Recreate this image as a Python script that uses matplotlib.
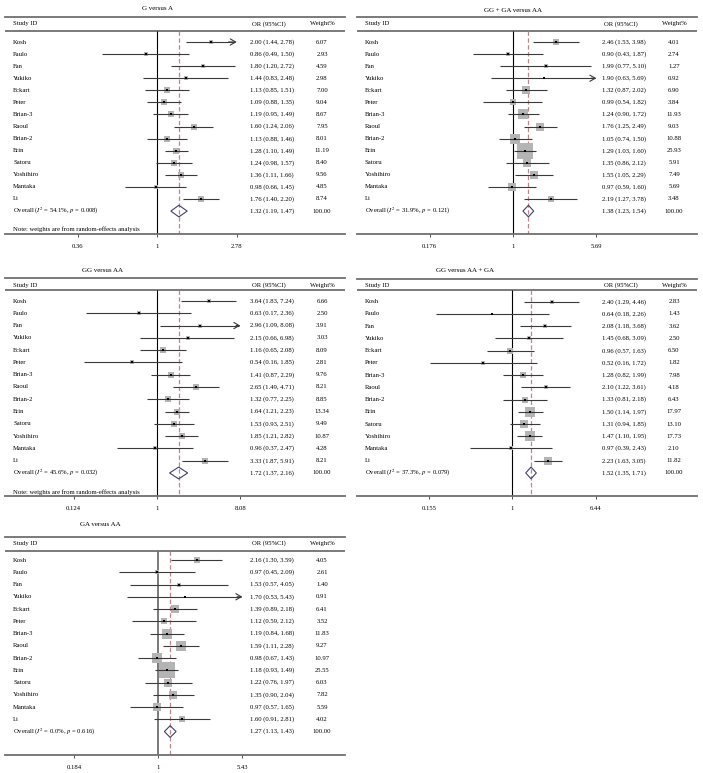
import numpy as np
import matplotlib
matplotlib.use("Agg")
import matplotlib.pyplot as plt
from matplotlib.patches import Polygon
import matplotlib.transforms as mtrans

plt.rcParams["font.family"] = ["Liberation Serif", "DejaVu Serif"]
plt.rcParams["mathtext.fontset"] = "stix"

studies = ["Kosh", "Paulo", "Fan", "Yukiko", "Eckart", "Peter", "Brian-3", "Raoul",
           "Brian-2", "Erin", "Satoru", "Yoshihiro", "Mantaka", "Li"]

# ---- G versus A
ga_or = [2.00, 0.86, 1.80, 1.44, 1.13, 1.09, 1.19, 1.60, 1.13, 1.28, 1.24, 1.36, 0.98, 1.76]
ga_lo = [1.44, 0.49, 1.20, 0.83, 0.85, 0.88, 0.95, 1.24, 0.88, 1.10, 0.98, 1.11, 0.66, 1.40]
ga_hi = [2.78, 1.50, 2.72, 2.48, 1.51, 1.35, 1.49, 2.06, 1.46, 1.49, 1.57, 1.66, 1.45, 2.20]
ga_w = [6.07, 2.93, 4.59, 2.98, 7.00, 9.04, 8.67, 7.95, 8.01, 11.19, 8.40, 9.56, 4.85, 8.74]
ga_overall = [1.32, 1.19, 1.47, 54.1, 0.008]

# ---- GG + GA versus AA
dom_or = [2.46, 0.90, 1.99, 1.90, 1.32, 0.99, 1.24, 1.76, 1.05, 1.29, 1.35, 1.55, 0.97, 2.19]
dom_lo = [1.53, 0.43, 0.77, 0.63, 0.87, 0.54, 0.90, 1.25, 0.74, 1.03, 0.86, 1.05, 0.59, 1.27]
dom_hi = [3.98, 1.87, 5.10, 5.69, 2.02, 1.82, 1.72, 2.49, 1.50, 1.60, 2.12, 2.29, 1.60, 3.78]
dom_w = [4.01, 2.74, 1.27, 0.92, 6.90, 3.84, 11.93, 9.03, 10.88, 25.93, 5.91, 7.49, 5.69, 3.48]
dom_overall = [1.38, 1.23, 1.54, 31.9, 0.121]

# ---- GG versus AA
hom_or = [3.64, 0.63, 2.96, 2.15, 1.16, 0.54, 1.41, 2.65, 1.32, 1.64, 1.53, 1.85, 0.96, 3.33]
hom_lo = [1.83, 0.17, 1.09, 0.66, 0.65, 0.16, 0.87, 1.49, 0.77, 1.21, 0.93, 1.21, 0.37, 1.87]
hom_hi = [7.24, 2.36, 8.08, 6.98, 2.08, 1.85, 2.29, 4.71, 2.25, 2.23, 2.51, 2.82, 2.47, 5.91]
hom_w = [6.66, 2.50, 3.91, 3.03, 8.09, 2.81, 9.76, 8.21, 8.85, 13.34, 9.49, 10.87, 4.28, 8.21]
hom_overall = [1.72, 1.37, 2.16, 45.6, 0.032]

# ---- GG versus AA + GA
rec_or = [2.40, 0.64, 2.08, 1.45, 0.96, 0.52, 1.28, 2.10, 1.33, 1.50, 1.31, 1.47, 0.97, 2.23]
rec_lo = [1.29, 0.18, 1.18, 0.68, 0.57, 0.16, 0.82, 1.22, 0.81, 1.14, 0.94, 1.10, 0.39, 1.63]
rec_hi = [4.46, 2.26, 3.68, 3.09, 1.63, 1.72, 1.99, 3.61, 2.18, 1.97, 1.85, 1.95, 2.43, 3.05]
rec_w = [2.83, 1.43, 3.62, 2.50, 6.50, 1.82, 7.98, 4.18, 6.43, 17.97, 13.10, 17.73, 2.10, 11.82]
rec_overall = [1.52, 1.35, 1.71, 37.3, 0.079]

# ---- GA versus AA
het_or = [2.16, 0.97, 1.53, 1.70, 1.39, 1.12, 1.19, 1.59, 0.98, 1.18, 1.22, 1.35, 0.97, 1.60]
het_lo = [1.30, 0.45, 0.57, 0.53, 0.89, 0.59, 0.84, 1.11, 0.67, 0.93, 0.76, 0.90, 0.57, 0.91]
het_hi = [3.59, 2.09, 4.05, 5.43, 2.18, 2.12, 1.68, 2.28, 1.43, 1.49, 1.97, 2.04, 1.65, 2.81]
het_w = [4.05, 2.61, 1.40, 0.91, 6.41, 3.52, 11.83, 9.27, 10.97, 25.55, 6.03, 7.82, 5.59, 4.02]
het_overall = [1.27, 1.13, 1.43, 0.0, 0.616]

titles = ["G versus A", "GG + GA versus AA", "GG versus AA", "GG versus AA + GA", "GA versus AA"]
tick_max = [2.78, 5.69, 8.08, 6.44, 5.43]
tick_labels = [["0.36", "1", "2.78"], ["0.176", "1", "5.69"], ["0.124", "1", "8.08"],
               ["0.155", "1", "6.44"], ["0.184", "1", "5.43"]]
note_text = "Note: weights are from random-effects analysis"

panels = [
    (ga_or, ga_lo, ga_hi, ga_w, ga_overall),
    (dom_or, dom_lo, dom_hi, dom_w, dom_overall),
    (hom_or, hom_lo, hom_hi, hom_w, hom_overall),
    (rec_or, rec_lo, rec_hi, rec_w, rec_overall),
    (het_or, het_lo, het_hi, het_w, het_overall),
]

# layout in pixels: L, R, x_of_1, x_of_tick, y_title, x_title, y_topline, y_head, y_secline,
# y_kosh, y_li, y_note, y_bottom, has_note, box_scale, null-line colour/width
layout = [
    (5, 345, 157.3, 236.7, 9, 157, 17, 24, 30.5, 42, 199, 229, 234, True, 1.95, ("black", 0.8)),
    (357, 697, 513, 596.3, 11, 513, 17, 24, 31, 42, 199, None, 234, False, 4.5, ("black", 0.8)),
    (5, 345, 157, 240.3, 270, 102, 277.7, 285, 290, 301, 460.7, 491.7, 495.7, True, 1.9, ("black", 0.8)),
    (357, 697, 512.3, 595.7, 270, 465, 279, 285, 290, 301.7, 460.7, None, 495.7, False, 2.9, ("black", 0.8)),
    (5, 345, 158.3, 242.3, 525, 100, 536.7, 543.3, 550.7, 560, 719.3, None, 755, False, 4.6, ("#707070", 1.3)),
]

W, H = 703, 773
fig = plt.figure(figsize=(W / 100, H / 100), dpi=100)

FS = 4.8
GRAY = "#6f6f6f"
LINEC = "#3a3a3a"

for pi, (orv, lov, hiv, wv, ov) in enumerate(panels):
    (L, R, x1, xt, yti, xti, ytop, yhead, ysec, yk, yli, ynote, ybot, has_note, bscale, nullst) = layout[pi]
    t = tick_max[pi]
    s = (xt - x1) / np.log(t)
    xl = np.exp((L - x1) / s)
    xr = np.exp((R - x1) / s)
    sp = (yli - yk) / 13.0
    row = lambda y: (y - yk) / sp

    ax = fig.add_axes([L / W, 1 - ybot / H, (R - L) / W, (ybot - ytop) / H])
    ax.set_xscale("log")
    ax.set_xlim(xl, xr)
    ax.set_ylim(row(ybot), row(ytop))
    ax.set_facecolor("none")
    for side in ["left", "right"]:
        ax.spines[side].set_visible(False)
    for side in ["top", "bottom"]:
        ax.spines[side].set_color(GRAY)
        ax.spines[side].set_linewidth(1.3)
    ax.set_yticks([])
    ax.minorticks_off()
    ax.set_xticks([1 / t, 1, t])
    ax.set_xticklabels(tick_labels[pi])
    ax.tick_params(axis="x", which="major", direction="out", length=2.5, width=0.6,
                   color="#333333", labelsize=FS, pad=5)
    ax.tick_params(axis="x", which="minor", length=0)

    rsec = row(ysec)
    rbot = row(ybot)
    ax.axhline(rsec, color=GRAY, lw=1.3, zorder=1)

    trans = mtrans.blended_transform_factory(ax.transAxes, ax.transData)
    fx = lambda px: (px - L) / (R - L)

    ax.text(fx(xti if pi % 2 == 1 else xti), row(yti), titles[pi], transform=trans,
            ha="center", va="center", fontsize=FS + 0.2, clip_on=False)
    ax.text(fx(L + 8), row(yhead), "Study ID", transform=trans, ha="left", va="center", fontsize=FS)
    ax.text(fx(L + 264), row(yhead), "OR (95%CI)", transform=trans, ha="center", va="center", fontsize=FS)
    ax.text(fx(L + 317), row(yhead), "Weight%", transform=trans, ha="center", va="center", fontsize=FS)

    est, olo, ohi, i2, pval = ov
    ax.vlines(1, rsec, rbot, color=nullst[0], lw=nullst[1], zorder=1)
    ax.vlines(est, rsec, rbot, color="#c0848c", lw=0.9, linestyles=(0, (3.5, 2.0)), zorder=1)

    for i, name in enumerate(studies):
        o, lo, hi, w = orv[i], lov[i], hiv[i], wv[i]
        ax.scatter([o], [i], marker="s", s=bscale * w, color="#b4b4b4", lw=0, zorder=2)
        lo_c = max(lo, 1 / t)
        hi_c = min(hi, t)
        if hi >= t:
            ax.plot([lo_c, hi_c * 0.97], [i, i], color=LINEC, lw=0.8, zorder=3,
                    solid_capstyle="butt")
            ax.annotate("", xy=(hi_c, i), xytext=(hi_c * 0.9, i),
                        arrowprops=dict(arrowstyle="->,head_length=0.55,head_width=0.32",
                                        color=LINEC, lw=0.8, shrinkA=0, shrinkB=0,
                                        mutation_scale=7), zorder=3)
        else:
            ax.plot([lo_c, hi_c], [i, i], color=LINEC, lw=0.8, zorder=3, solid_capstyle="butt")
        ax.plot([o], [i], marker="s", ms=1.7, color="black", mew=0, zorder=4)
        ax.text(fx(L + 8), i, name, transform=trans, ha="left", va="center", fontsize=FS)
        ax.text(fx(L + 245), i, f"{o:.2f} ({lo:.2f}, {hi:.2f})", transform=trans,
                ha="left", va="center", fontsize=FS)
        ax.text(fx(L + 317), i, f"{w:.2f}", transform=trans, ha="center", va="center", fontsize=FS)

    ro = 14
    dia = Polygon([(olo, ro), (est, ro - 0.48), (ohi, ro), (est, ro + 0.48)], closed=True,
                  facecolor="none", edgecolor="#404070", lw=0.8, zorder=4)
    ax.add_patch(dia)
    ax.text(fx(L + 8), ro, rf"Overall ($I^2$ = {i2:.1f}%, $p$ = {pval:.3f})", transform=trans,
            ha="left", va="center", fontsize=FS)
    ax.text(fx(L + 245), ro, f"{est:.2f} ({olo:.2f}, {ohi:.2f})", transform=trans,
            ha="left", va="center", fontsize=FS)
    ax.text(fx(L + 317), ro, "100.00", transform=trans, ha="center", va="center", fontsize=FS)
    if has_note:
        ax.text(fx(L + 8), row(ynote), note_text, transform=trans, ha="left", va="center", fontsize=FS)

fig.savefig("out.png", dpi=100)
